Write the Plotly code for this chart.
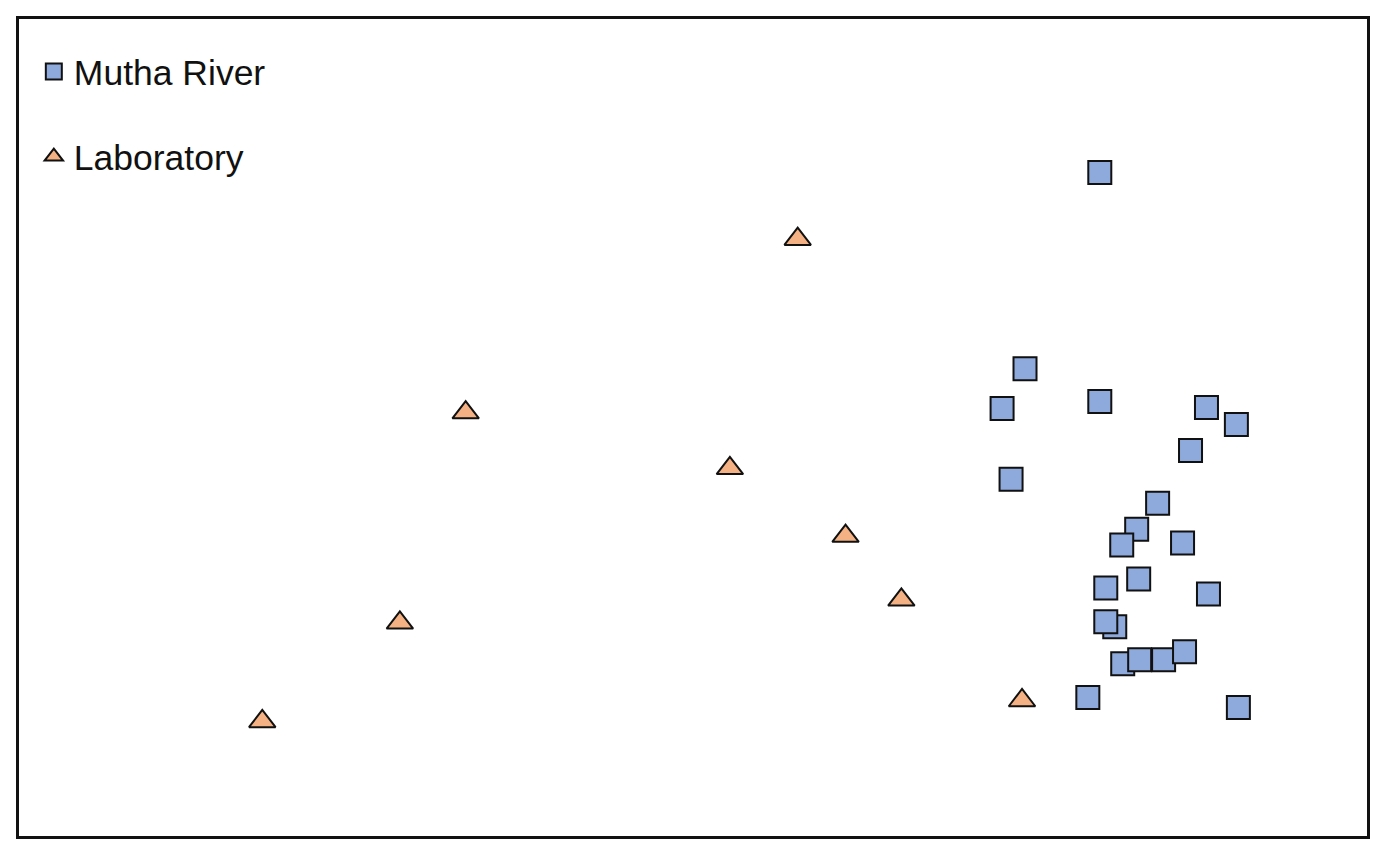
import plotly.graph_objects as go

# NMDS-style ordination coordinates (arbitrary units)
river_x = [1082, 1007, 984, 1082, 1189, 1219, 1173, 993, 1140, 1119, 1104, 1165,
           1121, 1088, 1191, 1097, 1088, 1105, 1122, 1146, 1167, 1070, 1221]
river_y = [666, 469, 429, 436, 430, 413, 387, 358, 334, 308, 292, 294,
           258, 249, 243, 210, 215, 173, 177, 177, 185, 139, 129]

lab_x = [779, 446, 711, 827, 883, 380, 242, 1004]
lab_y = [599, 425, 369, 301, 237, 214, 115, 136]

fig = go.Figure()

fig.add_trace(go.Scatter(
    x=river_x, y=river_y, mode="markers", name="Mutha River", legendgroup="river",
    marker=dict(symbol="square", size=23, color="#8EA9DB",
                line=dict(color="#111111", width=2)),
))
fig.add_trace(go.Scatter(
    x=lab_x, y=lab_y, mode="markers", name="Laboratory", legendgroup="lab",
    marker=dict(symbol="triangle-up", size=23, color="#F4B183",
                line=dict(color="#111111", width=2)),
))

axis_style = dict(showgrid=False, zeroline=False, showticklabels=False, ticks="",
                  showline=True, mirror=True, linecolor="#111111", linewidth=2.5)

# page body has an 8px margin, so the figure is sized to fit the window
fig.update_layout(
    width=1370, height=838,
    margin=dict(l=11, r=8, t=8, b=10),
    paper_bgcolor="white", plot_bgcolor="white",
    font=dict(family="Liberation Sans, Arial, sans-serif", color="#111111"),
    xaxis=dict(range=[-2, 1350], **axis_style),
    yaxis=dict(range=[0, 820], **axis_style),
    legend=dict(x=0.011, y=0.972, xanchor="left", yanchor="top",
                font=dict(size=35.5), tracegroupgap=36, traceorder="grouped",
                bgcolor="rgba(0,0,0,0)"),
)

fig.write_html("out.html")
